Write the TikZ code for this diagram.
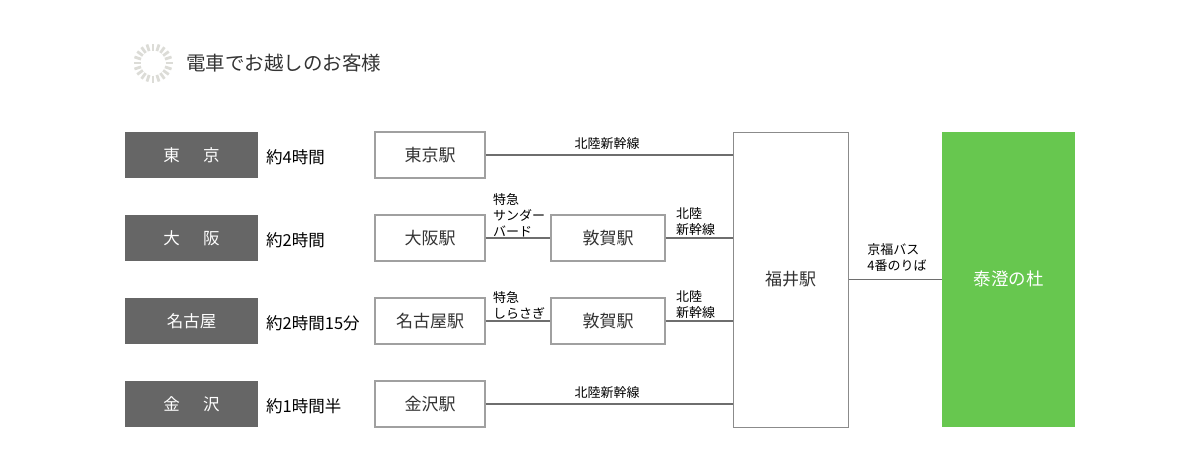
\documentclass[tikz,border=0pt]{standalone}
\usepackage{fontspec}
\usetikzlibrary{calc}
\setmainfont{Noto Sans CJK JP}
\definecolor{darkbox}{HTML}{666666}
\definecolor{stborder}{HTML}{A0A0A0}
\definecolor{linegray}{HTML}{6E6E6E}
\definecolor{greenbox}{HTML}{67C74F}
\definecolor{icongray}{HTML}{DCDCD7}
\definecolor{txt}{HTML}{333333}
\begin{document}
\begin{tikzpicture}[x=1pt,y=-1pt,
  origin/.style={fill=darkbox,draw=none,minimum width=133pt,minimum height=46pt,text=white,font=\fontsize{16.5}{16.5}\selectfont,inner sep=0pt},
  station/.style={draw=stborder,line width=1.3pt,fill=white,minimum width=110pt,minimum height=46pt,text=txt,font=\fontsize{17}{17}\selectfont,inner sep=0pt},
  tsuruga/.style={station,minimum width=114pt},
  timelbl/.style={anchor=west,text=black,font=\fontsize{16.5}{16.5}\selectfont,inner sep=0pt},
  small/.style={text=black,font=\fontsize{13}{16}\selectfont,inner sep=0pt,align=left},
  conn/.style={draw=linegray,line width=1.6pt},
]
\useasboundingbox (0,0) rectangle (1200,466);
% icon
\coordinate (ic) at (153,63);
\foreach \a in {0,18,...,342}{
  \draw[icongray,line width=2.8pt] ($(ic)+(\a:12.5)$) -- ($(ic)+(\a:19.5)$);
}
\node[anchor=west,inner sep=0pt,text=txt,font=\fontsize{19.5}{19.5}\selectfont] (title) at (186,63) {電車でお越しのお客様};
% origins
\node[origin] (o1) at (191.5,155) {東\hspace{1.4em}京};
\node[origin] (o2) at (191.5,238) {大\hspace{1.4em}阪};
\node[origin] (o3) at (191.5,321) {名古屋};
\node[origin] (o4) at (191.5,404) {金\hspace{1.4em}沢};
% times
\node[timelbl] (t1) at (266,157) {約4時間};
\node[timelbl] (t2) at (266,240) {約2時間};
\node[timelbl] (t3) at (266,323) {約2時間15分};
\node[timelbl] (t4) at (266,406) {約1時間半};
% stations
\node[station] (s1) at (430,155) {東京駅};
\node[station] (s2) at (430,238) {大阪駅};
\node[station] (s3) at (430,321) {名古屋駅};
\node[station] (s4) at (430,404) {金沢駅};
\node[tsuruga] (k2) at (608,238) {敦賀駅};
\node[tsuruga] (k3) at (608,321) {敦賀駅};
% Fukui
\node[draw=linegray!80,line width=1pt,fill=white,minimum width=115pt,minimum height=295pt,inner sep=0pt] (fk) at (790.5,279.5) {};
\node[text=txt,font=\fontsize{17}{17}\selectfont,inner sep=0pt] (fklbl) at (790.5,279) {福井駅};
% Green
\node[fill=greenbox,draw=none,minimum width=133pt,minimum height=295pt,inner sep=0pt] (gr) at (1008.5,279.5) {};
\node[text=white,font=\fontsize{17.5}{17.5}\selectfont,inner sep=0pt] (grlbl) at (1008.5,279) {泰澄の杜};
% connectors
\draw[conn] (s1.east) -- (s1.east -| fk.west);
\draw[conn] (s2.east) -- (k2.west);
\draw[conn] (k2.east) -- (k2.east -| fk.west);
\draw[conn] (s3.east) -- (k3.west);
\draw[conn] (k3.east) -- (k3.east -| fk.west);
\draw[conn] (s4.east) -- (s4.east -| fk.west);
\draw[conn] (fk.east |- gr.west) -- (gr.west);
% labels
\node[small] (l1) at (607,144) {北陸新幹線};
\node[small] (l4) at (607,393) {北陸新幹線};
\node[small,anchor=west,align=left] (l2) at (493,215) {特急\\サンダー\\バード};
\node[small,anchor=west,align=left] (l3) at (493,305) {特急\\しらさぎ};
\node[small,anchor=west,align=left] (l5) at (676,222) {北陸\\新幹線};
\node[small,anchor=west,align=left] (l6) at (676,305) {北陸\\新幹線};
\node[small,anchor=center,align=left] (l7) at (897,258) {京福バス\\4番のりば};
\end{tikzpicture}
\end{document}
